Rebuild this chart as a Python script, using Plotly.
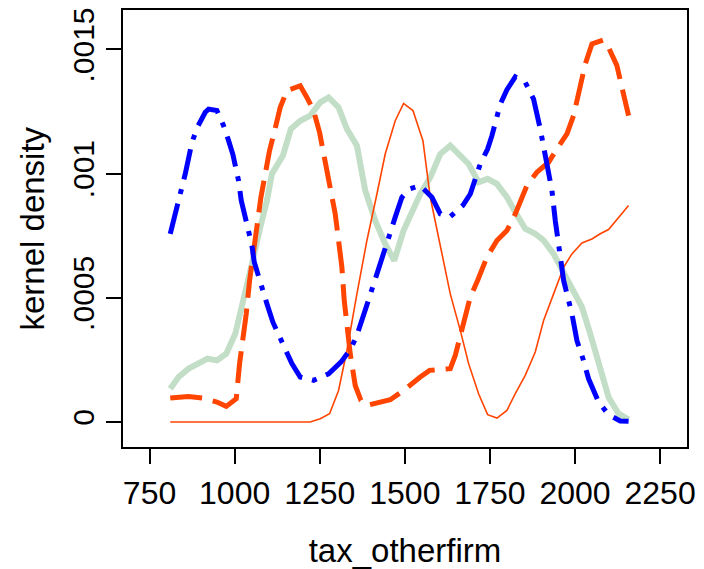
import plotly.graph_objects as go

# Thin orange-red solid line
thin_x = [810.8, 1222.0, 1251.5, 1278.9, 1305.3, 1329.8, 1359.2, 1388.6, 1418.0, 1442.4,
          1471.8, 1496.3, 1523.8, 1553.2, 1574.7, 1609.0, 1633.5, 1662.9, 1687.4, 1716.7,
          1743.2, 1770.6, 1800.0, 1824.5, 1853.8, 1883.2, 1907.7, 1937.1, 1966.5, 1990.9,
          2020.3, 2049.7, 2074.2, 2098.6, 2128.0, 2157.4]
thin_y = [0.0, 0.0, 0.0000134, 0.0000335, 0.000127, 0.000288, 0.000516, 0.000731, 0.000918, 0.001079,
          0.001213, 0.001283, 0.001254, 0.001133, 0.000905, 0.000677, 0.000516, 0.000369, 0.000235, 0.000114,
          0.0000295, 0.0000161, 0.0000469, 0.000114, 0.000188, 0.000282, 0.000409, 0.000516, 0.000623, 0.000677,
          0.000721, 0.000737, 0.000758, 0.000775, 0.000825, 0.000872]

# Thick light-green solid line
green_x = [810.8, 835.3, 864.7, 894.0, 920.5, 947.9, 975.3, 1001.8, 1026.2, 1050.7,
           1075.2, 1094.8, 1109.5, 1141.8, 1165.3, 1192.7, 1222.1, 1251.5, 1276.0, 1305.3,
           1329.8, 1359.2, 1383.7, 1413.1, 1442.4, 1468.9, 1496.3, 1520.8, 1545.3, 1574.7,
           1604.1, 1633.5, 1662.9, 1687.4, 1716.7, 1743.2, 1770.6, 1800.0, 1824.5, 1853.8,
           1883.2, 1907.7, 1937.1, 1966.5, 1990.9, 2020.3, 2044.8, 2074.2, 2098.6, 2128.0, 2157.4]
green_y = [0.000134, 0.000181, 0.000215, 0.000235, 0.000255, 0.000248, 0.000275, 0.000355, 0.000489, 0.000637,
           0.000784, 0.000892, 0.000999, 0.001073, 0.00118, 0.001213, 0.001234, 0.001287, 0.001307, 0.001267,
           0.00118, 0.001113, 0.000932, 0.000811, 0.000717, 0.00065, 0.000771, 0.000851, 0.000918, 0.000985,
           0.001079, 0.001113, 0.001073, 0.001039, 0.000965, 0.000979, 0.000959, 0.000905, 0.000845, 0.000778,
           0.000758, 0.000731, 0.000677, 0.000597, 0.000543, 0.000463, 0.000355, 0.000221, 0.0001, 0.0000335, 0.0000094]

# Blue dash-dot line
blue_x = [810.8, 825.5, 843.1, 854.9, 874.5, 891.1, 913.6, 923.4, 947.9, 967.5,
          982.2, 994.9, 1011.5, 1019.4, 1031.1, 1050.7, 1057.6, 1070.3, 1094.8, 1112.4,
          1134.0, 1168.2, 1192.7, 1231.9, 1276.0, 1312.2, 1339.6, 1357.3, 1386.6, 1400.3,
          1418.0, 1442.4, 1455.2, 1471.8, 1491.4, 1513.9, 1545.4, 1579.6, 1604.1, 1633.5,
          1670.7, 1692.3, 1721.6, 1743.2, 1755.9, 1780.4, 1800.0, 1824.5, 1853.8, 1878.3,
          1897.9, 1912.6, 1932.2, 1942.0, 1956.7, 1966.5, 1990.9, 2005.6, 2023.3, 2039.9,
          2069.3, 2098.6, 2132.9, 2157.4]
blue_y = [0.000758, 0.000838, 0.000939, 0.000999, 0.001126, 0.001189, 0.001247, 0.00126, 0.001254, 0.001193,
          0.001133, 0.001077, 0.000972, 0.000892, 0.000825, 0.000711, 0.000644, 0.000583, 0.000476, 0.000402,
          0.000335, 0.000235, 0.000181, 0.000168, 0.000194, 0.000241, 0.000291, 0.000342, 0.000463, 0.000523,
          0.00059, 0.000704, 0.000764, 0.000825, 0.000905, 0.000939, 0.000952, 0.000905, 0.000838, 0.000827,
          0.000872, 0.000918, 0.001039, 0.001099, 0.001153, 0.00128, 0.001338, 0.00139, 0.001368, 0.0013,
          0.00118, 0.001066, 0.000932, 0.000811, 0.000677, 0.00057, 0.000436, 0.000328, 0.000255, 0.000174,
          0.0000804, 0.0000295, 0.000004, 0.0000027]

# Orange-red long-dash line
orange_x = [810.8, 864.7, 906.8, 947.9, 975.3, 1004.7, 1014.5, 1024.3, 1034.1, 1043.9,
            1053.7, 1065.4, 1077.2, 1089.9, 1102.6, 1116.3, 1134.0, 1153.5, 1192.7, 1212.3,
            1231.9, 1249.5, 1263.2, 1280.9, 1295.5, 1305.3, 1315.1, 1322.0, 1329.8, 1339.6,
            1354.3, 1370.9, 1388.6, 1427.8, 1457.1, 1496.3, 1525.7, 1545.3, 1572.8, 1633.5,
            1648.2, 1667.8, 1692.3, 1713.8, 1741.2, 1770.6, 1800.0, 1824.5, 1844.0, 1858.7,
            1888.1, 1922.4, 1946.9, 1976.3, 1995.8, 2012.5, 2030.1, 2049.7, 2082.0, 2098.6,
            2123.1, 2137.8, 2147.6, 2157.4]
orange_y = [0.0000965, 0.000103, 0.0000965, 0.0000804, 0.000063, 0.0000939, 0.000235, 0.000328, 0.000436, 0.00057,
            0.000677, 0.000784, 0.000905, 0.000999, 0.001093, 0.001166, 0.001267, 0.001334, 0.001354, 0.001307,
            0.001254, 0.001166, 0.001066, 0.000952, 0.000838, 0.000731, 0.000623, 0.000489, 0.000396, 0.000275,
            0.000147, 0.0000872, 0.000067, 0.0000804, 0.0000898, 0.000127, 0.000161, 0.000181, 0.000208, 0.000215,
            0.000268, 0.000375, 0.000503, 0.00057, 0.000664, 0.000731, 0.000771, 0.000838, 0.000905, 0.000952,
            0.001006, 0.001046, 0.0011, 0.00116, 0.001234, 0.001341, 0.001441, 0.001522, 0.001538, 0.001508,
            0.001435, 0.001347, 0.001294, 0.001234]

x_ticks = [750, 1000, 1250, 1500, 1750, 2000, 2250]
x_tick_labels = ["750", "1000", "1250", "1500", "1750", "2000", "2250"]
y_ticks = [0, 0.0005, 0.001, 0.0015]
y_tick_labels = ["0", ".0005", ".001", ".0015"]

FONT = "Liberation Sans, Arial, Helvetica, sans-serif"

fig = go.Figure()
fig.add_trace(go.Scatter(x=green_x, y=green_y, mode="lines",
                         line=dict(color="#c2dec6", width=6)))
fig.add_trace(go.Scatter(x=thin_x, y=thin_y, mode="lines",
                         line=dict(color="#ff4500", width=1.6)))
fig.add_trace(go.Scatter(x=orange_x, y=orange_y, mode="lines",
                         line=dict(color="#ff4500", width=5, dash="32px,11px")))
fig.add_trace(go.Scatter(x=blue_x, y=blue_y, mode="lines",
                         line=dict(color="#0000ff", width=5, dash="31px,10px,5px,10px")))

# page has an 8px body margin, so the figure is 8px smaller than the window
fig.update_layout(
    width=696, height=561,
    margin=dict(l=115, r=17, t=2, b=122),
    paper_bgcolor="white", plot_bgcolor="white",
    showlegend=False,
    font=dict(family=FONT, size=32, color="black"),
    xaxis=dict(range=[672, 2329], tickvals=x_ticks, ticktext=x_tick_labels,
               automargin=False, ticklabeloverflow="allow",
               ticks="outside", ticklen=15, tickwidth=2, tickcolor="black",
               showline=True, linewidth=2, linecolor="black", mirror=True,
               showgrid=False, zeroline=False,
               tickfont=dict(size=32), ticklabelstandoff=2,
               title=dict(text="tax_otherfirm", font=dict(size=33), standoff=28)),
    yaxis=dict(range=[-0.0001006, 0.001659], tickvals=y_ticks, ticktext=y_tick_labels,
               automargin=False, ticklabeloverflow="allow",
               tickangle=-90,
               ticks="outside", ticklen=15, tickwidth=2, tickcolor="black",
               showline=True, linewidth=2, linecolor="black", mirror=True,
               showgrid=False, zeroline=False,
               tickfont=dict(size=30), ticklabelstandoff=0),
    annotations=[dict(text="kernel density", textangle=-90, showarrow=False,
                      xref="paper", yref="paper", x=-0.1596, y=0.5,
                      xanchor="center", yanchor="middle",
                      font=dict(size=33, family=FONT, color="black"))],
)

fig.write_html("out.html")
